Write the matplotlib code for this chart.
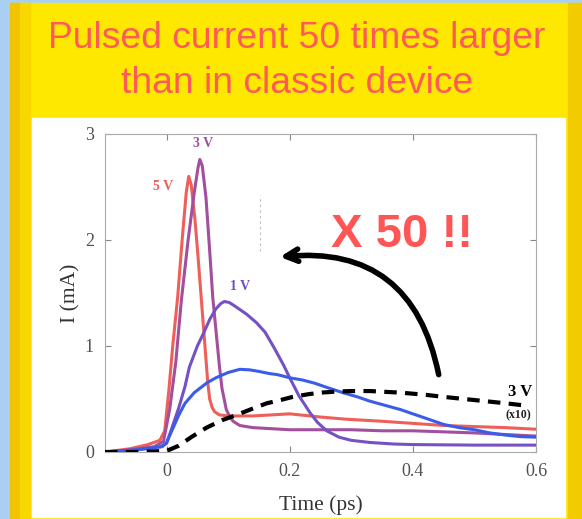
import numpy as np
import matplotlib.pyplot as plt
from matplotlib.patches import Rectangle

# =============================================================================
# Data (time in ps, current in mA)
# =============================================================================

# 5 V pulse
t_5v = [-0.1, -0.06, -0.03, -0.011, -0.003, 0.004, 0.01, 0.018, 0.026, 0.032,
        0.036, 0.04, 0.046, 0.051, 0.057, 0.063, 0.067, 0.07, 0.074, 0.078,
        0.086, 0.1, 0.14, 0.17, 0.2, 0.25, 0.29, 0.35, 0.4, 0.45, 0.5, 0.55, 0.6]
i_5v = [0.0, 0.03, 0.07, 0.11, 0.2, 0.6, 1.0, 1.46, 2.05, 2.45,
        2.6, 2.52, 2.2, 1.85, 1.4, 0.95, 0.65, 0.5, 0.42, 0.38,
        0.35, 0.34, 0.34, 0.35, 0.36, 0.33, 0.31, 0.29, 0.27, 0.25, 0.24, 0.23, 0.215]

# 3 V pulse
t_3v = [-0.1, -0.06, -0.02, -0.005, 0.005, 0.015, 0.024, 0.035, 0.045, 0.051,
        0.054, 0.058, 0.064, 0.07, 0.075, 0.081, 0.086, 0.09, 0.097, 0.103,
        0.108, 0.119, 0.14, 0.17, 0.2, 0.25, 0.3, 0.35, 0.4, 0.45, 0.5, 0.55, 0.6]
i_3v = [0.0, 0.02, 0.05, 0.1, 0.4, 0.85, 1.43, 2.0, 2.45, 2.68,
        2.76, 2.7, 2.4, 1.9, 1.46, 1.1, 0.8, 0.6, 0.4, 0.33,
        0.29, 0.25, 0.23, 0.22, 0.21, 0.21, 0.21, 0.2, 0.2, 0.19, 0.18, 0.165, 0.15]

# 1 V pulse
t_1v = [-0.1, -0.05, -0.01, 0.0, 0.01, 0.02, 0.03, 0.037, 0.05, 0.06, 0.07,
        0.08, 0.088, 0.094, 0.102, 0.11, 0.12, 0.13, 0.146, 0.16, 0.175, 0.19,
        0.2, 0.215, 0.233, 0.245, 0.26, 0.28, 0.3, 0.33, 0.37, 0.4, 0.5, 0.6]
i_1v = [0.0, 0.02, 0.05, 0.08, 0.25, 0.42, 0.62, 0.8, 1.0, 1.12, 1.25,
        1.35, 1.4, 1.42, 1.41, 1.38, 1.34, 1.3, 1.22, 1.13, 0.98, 0.82,
        0.7, 0.53, 0.37, 0.28, 0.2, 0.14, 0.11, 0.09, 0.075, 0.07, 0.065, 0.065]

# unlabelled blue pulse
t_blue = [-0.1, -0.05, -0.007, 0.0, 0.01, 0.02, 0.03, 0.045, 0.065, 0.08, 0.1,
          0.119, 0.135, 0.15, 0.167, 0.18, 0.2, 0.22, 0.24, 0.26, 0.286, 0.31,
          0.33, 0.355, 0.38, 0.41, 0.43, 0.45, 0.475, 0.5, 0.525, 0.55, 0.575, 0.6]
i_blue = [0.0, 0.02, 0.05, 0.09, 0.22, 0.35, 0.46, 0.56, 0.65, 0.7, 0.75,
          0.78, 0.775, 0.76, 0.74, 0.73, 0.7, 0.68, 0.65, 0.61, 0.56, 0.52,
          0.48, 0.44, 0.4, 0.34, 0.3, 0.26, 0.23, 0.21, 0.18, 0.16, 0.145, 0.14]

# classic device, 3 V (x10)
t_ref = [-0.1, -0.05, 0.0, 0.02, 0.04, 0.065, 0.09, 0.114, 0.14, 0.163, 0.185,
         0.205, 0.23, 0.25, 0.276, 0.3, 0.33, 0.38, 0.42, 0.45, 0.5, 0.55, 0.58]
i_ref = [0.0, 0.0, 0.01, 0.06, 0.14, 0.23, 0.3, 0.35, 0.41, 0.46, 0.49,
         0.52, 0.545, 0.56, 0.57, 0.575, 0.575, 0.56, 0.54, 0.52, 0.49, 0.46, 0.44]

x_ticks = [0, 0.2, 0.4, 0.6]
x_ticklabels = ['0', '0.2', '0.4', '0.6']
y_ticks = [0, 1, 2, 3]

title_lines = ['Pulsed current 50 times larger', 'than in classic device']

# =============================================================================
# Figure with the slide background
# =============================================================================
W, H = 582, 519
fig = plt.figure(figsize=(W / 100, H / 100), dpi=100, facecolor='#a9cff5')


def box(x0, y0, x1, y1, color):
    # pixel box (y from top) -> figure rectangle, kept behind the axes
    fig.patches.append(Rectangle((x0 / W, 1 - y1 / H), (x1 - x0) / W, (y1 - y0) / H,
                                 transform=fig.transFigure, color=color, zorder=-5))


box(10, 3, W, H, '#ffe800')
box(10, 3, 20, H, '#f0c400')
box(20, 3, 30, H, '#f8d800')
box(568, 3, W, H, '#f2cc00')
box(32, 118, 565, 517, 'white')

for k, line in enumerate(title_lines):
    fig.text(297 / W, 1 - (48 + 45 * k) / H, line, ha='center', va='baseline',
             fontsize=26.8, color='#ff5a5a', family='Liberation Sans')

# =============================================================================
# Plot
# =============================================================================
ax = fig.add_axes([105 / W, 1 - 452 / H, 431 / W, 318 / H])
ax.set_facecolor('white')

serif = 'Liberation Serif'
kw = dict(lw=2.2, solid_joinstyle='round', solid_capstyle='round')

ax.plot(t_5v, i_5v, color='#ee5f5a', zorder=3, **kw)
ax.plot(t_3v, i_3v, color='#a24f9e', zorder=3, **kw)
ax.plot(t_1v, i_1v, color='#7452c4', zorder=3, **kw)
ax.plot(t_blue, i_blue, color='#3b5ce8', zorder=4, **kw)
ax.plot(t_ref, i_ref, color='black', lw=3, dashes=(3, 2), zorder=5)

# faint dotted artefact in the original figure
ax.plot([0.151, 0.151], [1.9, 2.42], color='#bbbbbb', lw=0.8, ls=(0, (2, 3)))

ax.set_xlim(-0.1, 0.6)
ax.set_ylim(0, 3)
ax.set_xticks(x_ticks)
ax.set_xticklabels(x_ticklabels)
ax.set_yticks(y_ticks)
ax.tick_params(direction='in', length=4, color='#888888', top=True, right=True,
               labelsize=13, labelcolor='#505050', pad=8)
for lab in ax.get_xticklabels() + ax.get_yticklabels():
    lab.set_family(serif)
for sp in ax.spines.values():
    sp.set_color('#aaaaaa')

ax.set_xlabel('Time (ps)', fontsize=15.5, family=serif, color='#333333', labelpad=11)
ax.set_ylabel('I (mA)', fontsize=15.5, family=serif, color='#333333', labelpad=3)

# curve labels
ax.text(-0.005, 2.5, '5 V', color='#e8605a', fontsize=10, fontweight='bold',
        family=serif, ha='center', va='center')
ax.text(0.0585, 2.915, '3 V', color='#a0509a', fontsize=10, fontweight='bold',
        family=serif, ha='center', va='center')
ax.text(0.12, 1.557, '1 V', color='#7050c0', fontsize=10, fontweight='bold',
        family=serif, ha='center', va='center')
ax.text(0.574, 0.566, '3 V', color='black', fontsize=12, fontweight='bold',
        family=serif, ha='center', va='center')
ax.text(0.572, 0.349, '(x10)', color='#222222', fontsize=8.5, fontweight='bold',
        family=serif, ha='center', va='center')

# the "x 50" callout
ax.text(0.382, 1.934, 'X 50 !!', color='#ff5555', fontsize=34, fontweight='bold',
        family='Liberation Sans', ha='center', va='baseline', zorder=6)
ax.annotate('', xy=(0.184, 1.84), xytext=(0.442, 0.73),
            arrowprops=dict(arrowstyle='->', lw=4, color='black', mutation_scale=22,
                            connectionstyle='arc3,rad=0.45', shrinkA=0, shrinkB=0),
            zorder=6)

plt.savefig('out.png', dpi=100, facecolor=fig.get_facecolor())
